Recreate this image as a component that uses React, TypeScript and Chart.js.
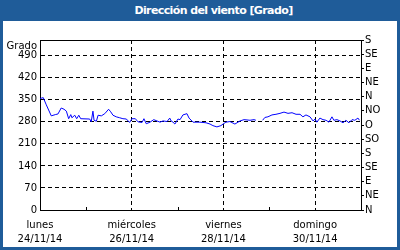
import React, { useEffect, useRef } from "react";
import { Chart, registerables } from "chart.js";

Chart.register(...registerables);

// hours since lunes 24/11/14 00:00
const hours: number[] = [
  0, 1.7, 3.3, 5.9, 8.0, 9.4, 11.1, 12.6, 13.8, 15.0, 16.1, 16.7, 18.2, 19.2, 20.3, 21.3,
  26.0, 26.8, 27.7, 28.3, 29.5, 30.4, 32.1, 33.9, 35.9, 37.0, 38.2, 39.9, 41.7, 43.4, 45.2,
  46.9, 48.1, 49.9, 51.3, 53.4, 54.4, 55.6, 57.6, 59.5, 61.2, 62.8, 64.4, 66.5, 67.9, 68.6,
  69.6, 70.6, 72.2, 73.3, 74.8, 76.9, 78.0, 80.1, 83.7, 86.9, 89.0, 90.5, 92.6, 94.7, 95.8,
  97.3, 99.4, 102.0, 104.7, 106.8, 109.9, 112.0, 113.0, 114.5, 116.5, 117.7, 119.3, 121.4,
  123.5, 125.6, 127.7, 129.8, 131.9, 134.0, 136.1, 137.6, 139.2, 141.3, 142.9, 143.9, 144.9,
  146.5, 148.1, 149.7, 151.2, 152.8, 153.8, 155.4, 157.0, 158.6, 160.1, 161.7, 163.3, 164.8,
  166.4, 167.2,
];
const direction: (number | null)[] = [
  354, 357, 334, 299, 303, 305, 324, 320, 314, 290, 303, 293, 301, 290, 301, 290,
  289, 280, 314, 285, 282, 301, 299, 306, 320, 312, 301, 296, 293, 290, 289,
  278, 290, 290, 280, 278, 290, 274, 279, 287, 283, 279, 283, 281, 292, 283,
  279, 273, 289, 287, 302, 306, 292, 279, 279, 277, 273, 268, 264, 268, 273,
  279, 281, 273, 283, 287, 285, 287, 285, null, 285, 294, 296, 302,
  304, 307, 311, 307, 309, 304, 304, 296, 302, 296, 283, 289, 279,
  292, 287, 285, 279, 296, 285, 287, 283, 277, 285, 277, 287, 285,
  292, 285,
];

const leftTicks: number[] = [0, 70, 140, 210, 280, 350, 420, 490];
const rightTicks: number[] = [0, 45, 90, 135, 180, 225, 270, 315, 360, 405, 450, 495, 540];
const rightLabels: string[] = ["N", "NE", "E", "SE", "S", "SO", "O", "NO", "N", "NE", "E", "SE", "S"];
const xTickHours: number[] = [0, 48, 96, 144];
const xTickDays: string[] = ["lunes", "miércoles", "viernes", "domingo"];
const xTickDates: string[] = ["24/11/14", "26/11/14", "28/11/14", "30/11/14"];
const minorTickHours: number[] = [24, 72, 120];

const FONT = "DejaVu Sans";

export default function App() {
  const ref = useRef<HTMLCanvasElement>(null);
  useEffect(() => {
    if (!ref.current) return;
    const framePlugin = {
      id: "frame",
      afterDraw(chart: any) {
        const { ctx, chartArea } = chart;
        const xs = chart.scales.x;
        ctx.save();
        ctx.strokeStyle = "#000";
        ctx.lineWidth = 1;
        ctx.beginPath();
        ctx.moveTo(chartArea.left, Math.round(chartArea.top) + 0.5);
        ctx.lineTo(chartArea.right, Math.round(chartArea.top) + 0.5);
        for (const h of minorTickHours) {
          const px = Math.round(xs.getPixelForValue(h)) + 0.5;
          ctx.moveTo(px, chartArea.bottom);
          ctx.lineTo(px, chartArea.bottom - 3);
        }
        ctx.stroke();
        ctx.fillStyle = "#000";
        ctx.font = `10px "${FONT}"`;
        ctx.textAlign = "right";
        ctx.textBaseline = "middle";
        ctx.fillText("Grado", chartArea.left - 3, chartArea.top + 6);
        ctx.restore();
      },
    };
    const chart = new Chart(ref.current, {
      type: "line",
      data: {
        datasets: [
          {
            data: hours.map((h, i) => ({ x: h, y: direction[i] })) as any,
            borderColor: "#0000ff",
            borderWidth: 1,
            pointRadius: 0,
            tension: 0,
            spanGaps: false,
            yAxisID: "y",
          },
        ],
      },
      options: {
        responsive: false,
        animation: false,
        layout: { padding: { top: 40, left: 0, right: 0, bottom: 0 } },
        plugins: { legend: { display: false }, tooltip: { enabled: false } },
        scales: {
          x: {
            type: "linear",
            min: 0,
            max: 168,
            afterBuildTicks: (s: any) => {
              s.ticks = xTickHours.map((v) => ({ value: v }));
            },
            afterFit: (s: any) => {
              s.height = 40;
            },
            ticks: {
              autoSkip: false,
              maxRotation: 0,
              padding: 8,
              color: "#000",
              font: { family: FONT, size: 10, lineHeight: "14px" },
              callback: (v: any) => {
                const i = xTickHours.indexOf(Number(v));
                return i >= 0 ? [xTickDays[i], xTickDates[i]] : "";
              },
            },
            grid: {
              drawTicks: false,
              color: (c: any) => (c.tick && c.tick.value === 0 ? "rgba(0,0,0,0)" : "#000"),
            },
            border: { display: true, color: "#000", width: 1, dash: [4, 3] },
          },
          y: {
            type: "linear",
            position: "left",
            min: 0,
            max: 540,
            afterBuildTicks: (s: any) => {
              s.ticks = leftTicks.map((v) => ({ value: v }));
            },
            afterFit: (s: any) => {
              s.width = 40;
            },
            ticks: {
              autoSkip: false,
              padding: 3,
              color: "#000",
              font: { family: FONT, size: 10 },
            },
            grid: {
              drawTicks: false,
              color: (c: any) => (c.tick && c.tick.value === 0 ? "rgba(0,0,0,0)" : "#000"),
            },
            border: { display: true, color: "#000", width: 1, dash: [4, 3] },
          },
          y2: {
            type: "linear",
            position: "right",
            min: 0,
            max: 540,
            afterBuildTicks: (s: any) => {
              s.ticks = rightTicks.map((v) => ({ value: v }));
            },
            afterFit: (s: any) => {
              s.width = 39;
            },
            ticks: {
              autoSkip: false,
              padding: 1,
              color: "#000",
              font: { family: FONT, size: 10 },
              callback: (v: any) => {
                const i = rightTicks.indexOf(Number(v));
                return i >= 0 ? rightLabels[i] : "";
              },
            },
            grid: {
              drawOnChartArea: false,
              drawTicks: true,
              tickLength: 3,
              color: "#000",
              tickBorderDash: [],
            },
            border: { display: true, color: "#000", width: 1 },
          },
        },
      },
      plugins: [framePlugin],
    });
    return () => chart.destroy();
  }, []);

  return (
    <div
      style={{
        position: "fixed",
        left: 0,
        top: 0,
        width: 400,
        height: 250,
        background: "#1f5c99",
      }}
    >
      <div
        style={{
          position: "absolute",
          left: 0,
          top: 0,
          width: 400,
          height: 21,
          lineHeight: "21px",
          color: "#fff",
          fontFamily: FONT,
          fontWeight: "bold",
          fontSize: 11,
          letterSpacing: "-0.6px",
          textAlign: "center",
          paddingLeft: 27,
          boxSizing: "border-box",
        }}
      >
        Dirección del viento [Grado]
      </div>
      <div
        style={{
          position: "absolute",
          left: 3,
          top: 21,
          width: 394,
          height: 226,
          background: "#fff",
        }}
      />
      <canvas
        ref={ref}
        width={400}
        height={250}
        style={{ position: "absolute", left: 0, top: 0, width: 400, height: 250 }}
      />
    </div>
  );
}
